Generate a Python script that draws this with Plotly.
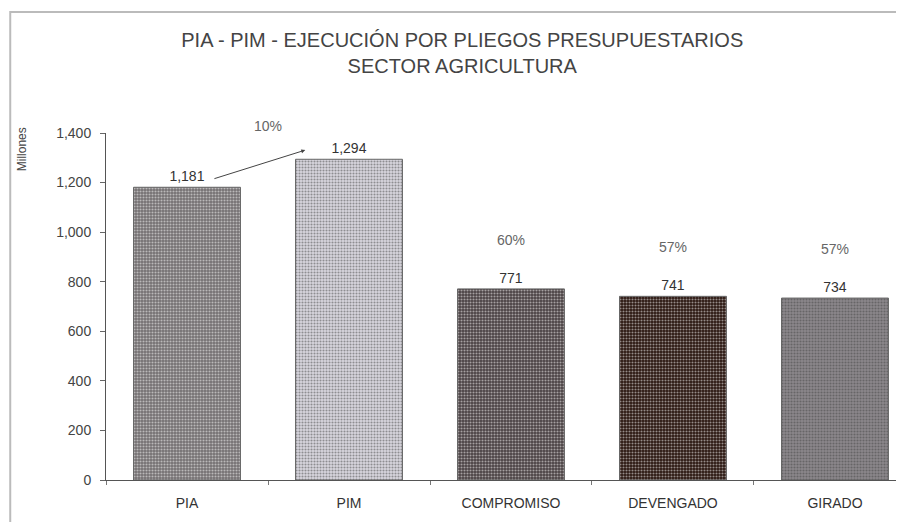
import plotly.graph_objects as go

# data
categorias = ["PIA", "PIM", "COMPROMISO", "DEVENGADO", "GIRADO"]
montos = [1181, 1294, 771, 741, 734]
etiquetas = ["1,181", "1,294", "771", "741", "734"]
porcentajes = ["10%", "", "60%", "57%", "57%"]
colores = ["#747072", "#d8d6de", "#4a4143", "#2a1610", "#8b878b"]
granos = ["#8e8a8c", "#e6e4ea", "#5e5456", "#3a241c", "#a09ca0"]
y_ticks = [0, 200, 400, 600, 800, 1000, 1200, 1400]

FONT = "Liberation Sans, Arial, sans-serif"

fig = go.Figure()
fig.add_trace(go.Bar(
    x=categorias, y=montos, width=0.66,
    marker=dict(color=colores, line=dict(color="#666", width=1),
                pattern=dict(shape=".", fgcolor=granos, size=3, solidity=0.4)),
    text=etiquetas, textposition="outside", cliponaxis=False,
    textfont=dict(family=FONT, size=14, color="#333"),
))

# percentages above the execution bars
for c, m, p in zip(categorias, montos, porcentajes):
    if p and c != "PIA":
        fig.add_annotation(x=c, y=m, yshift=49, text=p, showarrow=False,
                           font=dict(family=FONT, size=14, color="#666"))

# growth PIA -> PIM
fig.add_annotation(x=0.5, y=1400, yshift=7, text=porcentajes[0], showarrow=False,
                   font=dict(family=FONT, size=14, color="#666"))
fig.add_annotation(x=0.73, y=1331, ax=0.16, ay=1214, xref="x", yref="y",
                   axref="x", ayref="y", text="", showarrow=True,
                   arrowhead=2, arrowsize=0.8, arrowwidth=1, arrowcolor="#444")

fig.add_annotation(x=-0.105, y=1.023, xref="paper", yref="paper", text="Millones",
                   textangle=-90, showarrow=False, xanchor="center", yanchor="top",
                   font=dict(family=FONT, size=12, color="#444"))

# outer frame
fig.add_shape(type="rect", xref="paper", yref="paper", x0=-0.12, x1=1.3,
              y0=-0.3, y1=1.349, line=dict(color="#bbb", width=2))

# 896x514 so the page (8px body margin) fits the 904x522 window
fig.update_layout(
    width=896, height=514,
    margin=dict(l=98, r=0, t=125, b=42),
    paper_bgcolor="white", plot_bgcolor="white",
    showlegend=False,
    title=dict(text="PIA - PIM - EJECUCIÓN POR PLIEGOS PRESUPUESTARIOS<br>SECTOR AGRICULTURA",
               x=0.507, xanchor="center", y=0.924, yanchor="middle",
               font=dict(family=FONT, size=20, color="#444")),
    xaxis=dict(range=[-0.5, 4.426], showline=True, linecolor="#555", linewidth=1,
               ticks="outside", tickson="boundaries", ticklen=4, tickcolor="#777",
               ticklabelstandoff=10,
               tickfont=dict(family=FONT, size=14, color="#333"),
               showgrid=False),
    yaxis=dict(range=[0, 1400], tickvals=y_ticks, tickformat=",", showline=True,
               linecolor="#555", linewidth=1, ticks="outside", ticklen=5,
               tickcolor="#666", showgrid=False, zeroline=False,
               ticklabelstandoff=6,
               tickfont=dict(family=FONT, size=14, color="#444")),
)

fig.write_html("out.html")
